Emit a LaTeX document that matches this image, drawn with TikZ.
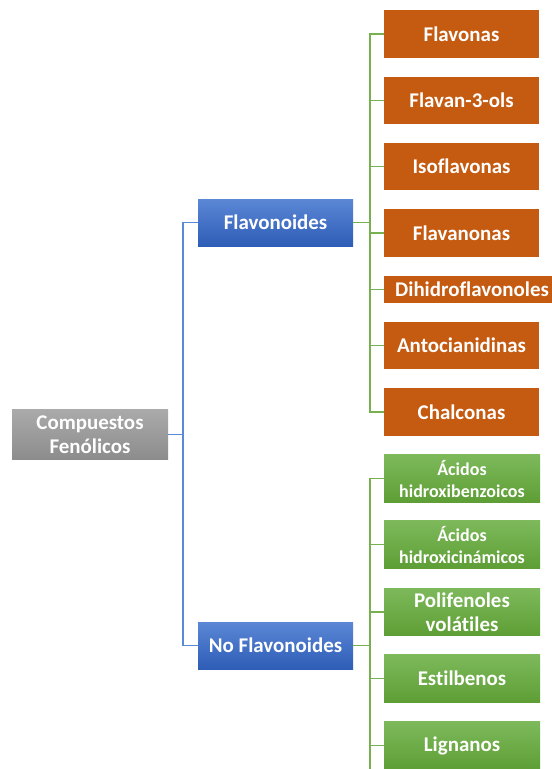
\documentclass[tikz,border=0pt]{standalone}
\usepackage{fontspec}
\setmainfont[Ligatures=NoCommon]{Carlito}
\definecolor{orangebox}{HTML}{C55A11}
\definecolor{greentop}{HTML}{7DB95B}
\definecolor{greenbot}{HTML}{5E9E35}
\definecolor{bluetop}{HTML}{5B87D5}
\definecolor{bluebot}{HTML}{2E5DB7}
\definecolor{graytop}{HTML}{AAAAAA}
\definecolor{graybot}{HTML}{8C8C8C}
\definecolor{blueline}{HTML}{5A8AD6}
\definecolor{greenline}{HTML}{76B04F}
\tikzset{
  base/.style={text=white, font=\bfseries\fontsize{15.7}{18}\selectfont, align=center, inner sep=0pt, outer sep=0pt, minimum width=116.25pt},
  graybox/.style={base, top color=graytop, bottom color=graybot, minimum height=37.5pt, minimum width=117pt},
  bluebox/.style={base, top color=bluetop, bottom color=bluebot, minimum height=35.25pt},
  orbox/.style={base, fill=orangebox, minimum height=35.6pt},
  grbox/.style={base, top color=greentop, bottom color=greenbot, minimum height=35.6pt, minimum width=117pt},
  small/.style={font=\bfseries\fontsize{13.5}{16.5}\selectfont},
  bl/.style={draw=blueline, line width=1pt},
  gl/.style={draw=greenline, line width=1.2pt}
}
\begin{document}
\begin{tikzpicture}[x=0.75pt,y=-0.75pt]
\useasboundingbox (0,0) rectangle (552,769);
% nodes
\node[graybox] (root) at (90,434.5) {Compuestos\\Fenólicos};
\node[bluebox] (flav) at (275.5,222.5) {Flavonoides};
\node[bluebox] (noflav) at (275.5,645.5) {No Flavonoides};
\node[orbox] (f1) at (461.5,34) {Flavonas};
\node[orbox] (f2) at (461.5,100.5) {Flavan-3-ols};
\node[orbox] (f3) at (461.5,166.5) {Isoflavonas};
\node[orbox] (f4) at (461.5,233) {Flavanonas};
\node[orbox, minimum height=20.25pt, minimum width=130pt, anchor=west] (f5) at (384,289.5) {\hspace*{2pt}Dihidroflavonoles};
\node[orbox] (f6) at (461.5,345.5) {Antocianidinas};
\node[orbox] (f7) at (461.5,412) {Chalconas};
\node[grbox, small] (g1) at (462,478.5) {Ácidos\\hidroxibenzoicos};
\node[grbox, small] (g2) at (462,544.5) {Ácidos\\hidroxicinámicos};
\node[grbox] (g3) at (462,612) {Polifenoles\\volátiles};
\node[grbox] (g4) at (462,678.5) {Estilbenos};
\node[grbox] (g5) at (462,745.5) {Lignanos};
% junctions
\coordinate (jb) at (183,434.5);
\coordinate (jf) at (370,222.5);
\coordinate (jn) at (370,645.5);
\coordinate (jend) at (370,769);
% blue connectors
\draw[bl] (root.east) -- (jb);
\draw[bl] (jb) |- (flav.west);
\draw[bl] (jb) |- (noflav.west);
% green connectors
\draw[gl] (flav.east) -- (jf);
\foreach \n in {f1,f2,f3,f4,f5,f6,f7} { \draw[gl] (jf) |- (\n.west); }
\draw[gl] (noflav.east) -- (jn);
\foreach \n in {g1,g2,g3,g4,g5} { \draw[gl] (jn) |- (\n.west); }
\draw[gl] (jn) -- (jend);
\end{tikzpicture}
\end{document}
